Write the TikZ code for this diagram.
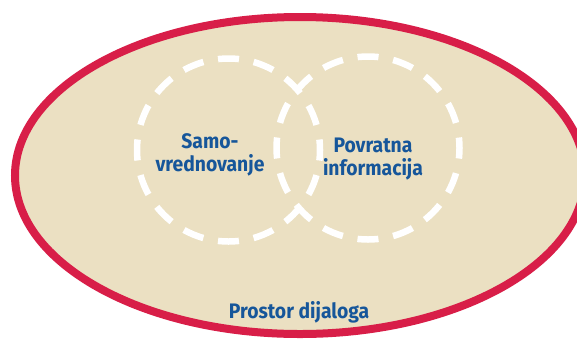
\documentclass[tikz,border=0pt]{standalone}
\usepackage{fontspec}
\usetikzlibrary{shapes.geometric}
\newfontfamily\labfont{Fira Sans}[FakeStretch=0.92]
\definecolor{ellred}{HTML}{D81E48}
\definecolor{ellfill}{HTML}{EBE0C2}
\definecolor{labblue}{HTML}{16569A}
\begin{document}
\begin{tikzpicture}[x=1pt,y=-1pt,
  lab/.style={text=labblue, font=\labfont\fontsize{21}{23}\selectfont\bfseries, align=center, inner sep=0pt, anchor=base},
  dashring/.style={draw=white, line width=6.5pt, dash pattern=on 21pt off 14.93pt, dash phase=10.5pt}]
\useasboundingbox (0,0) rectangle (577,338);
\clip (0,0) rectangle (577,338);
\node[draw=ellred, fill=ellfill, line width=8pt, ellipse, minimum width=570pt, minimum height=317pt, inner sep=0pt] (space) at (300,175.5) {};
\draw[dashring] (228.5,150) circle[radius=91.5pt];
\draw[dashring] (368,148) circle[radius=91.5pt];
\node[lab] (self) at (210,171) {Samo-\\vrednovanje};
\node[lab] (feed) at (373,175) {Povratna\\informacija};
\node[lab] (dial) at (299,318) {Prostor dijaloga};
\end{tikzpicture}
\end{document}
